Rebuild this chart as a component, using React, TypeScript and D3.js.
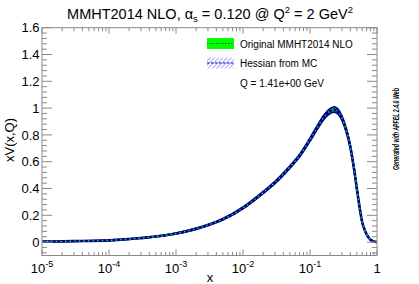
import React, { useRef, useEffect } from "react";
import * as d3 from "d3";

// valence distribution
const xValues = [1e-5, 3e-5, 1e-4, 3e-4, 1e-3, 2e-3, 3e-3, 5e-3, 1e-2, 2e-2, 3e-2, 5e-2, 7e-2, 0.1, 0.13, 0.16, 0.2, 0.23, 0.26, 0.3, 0.35, 0.4, 0.45, 0.5, 0.55, 0.6, 0.65, 0.7, 0.8, 0.9, 1.0];
const xvCentral = [0.004, 0.007, 0.013, 0.03, 0.064, 0.1, 0.127, 0.17, 0.255, 0.37, 0.445, 0.56, 0.645, 0.765, 0.86, 0.93, 0.978, 0.99, 0.975, 0.925, 0.83, 0.71, 0.56, 0.4, 0.26, 0.15, 0.095, 0.058, 0.018, 0.004, 0];
const errOriginal = [0.002, 0.002, 0.003, 0.003, 0.004, 0.005, 0.005, 0.006, 0.007, 0.008, 0.009, 0.01, 0.011, 0.013, 0.015, 0.017, 0.019, 0.02, 0.019, 0.017, 0.014, 0.012, 0.01, 0.008, 0.006, 0.004, 0.003, 0.002, 0.001, 0.001, 0];
const errHessian = [0.002, 0.002, 0.003, 0.003, 0.004, 0.005, 0.005, 0.006, 0.007, 0.008, 0.009, 0.01, 0.011, 0.013, 0.015, 0.017, 0.019, 0.02, 0.019, 0.017, 0.014, 0.012, 0.01, 0.008, 0.006, 0.004, 0.003, 0.002, 0.001, 0.001, 0];

const yMajorTicks = [0, 0.2, 0.4, 0.6, 0.8, 1, 1.2, 1.4, 1.6];
const yTickLabels = ["0", "0.2", "0.4", "0.6", "0.8", "1", "1.2", "1.4", "1.6"];
const xMajorTicks = [1e-5, 1e-4, 1e-3, 1e-2, 1e-1, 1];
const xTickExponents = ["-5", "-4", "-3", "-2", "-1", ""];

const legendLabels = ["Original MMHT2014 NLO", "Hessian from MC", "Q = 1.41e+00 GeV"];

const W = 419;
const H = 284;

const Chart = () => {
  const node: any = useRef();

  useEffect(() => {
    document.body.style.margin = "0";
    const svg = d3.select(node.current).attr("width", W).attr("height", H);
    svg.selectAll("*").remove();

    const left = 42, right = 377, top = 27.7, bottom = 255.5;
    const x = d3.scaleLog().domain([1e-5, 1]).range([left, right]);
    const y = d3.scaleLinear().domain([-0.1, 1.6]).range([bottom, top]);
    const font = "'Liberation Sans', Arial, Helvetica, sans-serif";
    const frameColor = "#8a8a8a";
    const blue = "#00008f";

    const defs = svg.append("defs");
    const pat = defs
      .append("pattern")
      .attr("id", "hatch")
      .attr("patternUnits", "userSpaceOnUse")
      .attr("width", 3)
      .attr("height", 3)
      .attr("patternTransform", "rotate(45)");
    pat.append("line").attr("x1", 0).attr("y1", 0).attr("x2", 0).attr("y2", 3)
      .attr("stroke", "#3a3aff").attr("stroke-width", 0.9);
    defs.append("clipPath").attr("id", "frameClip").append("rect")
      .attr("x", left).attr("y", top).attr("width", right - left).attr("height", bottom - top);

    // title
    const title = svg.append("text")
      .attr("x", 210).attr("y", 18.5).attr("text-anchor", "middle")
      .style("font-family", font).style("font-size", "14.5px");
    title.append("tspan").text("MMHT2014 NLO, ");
    title.append("tspan").text("α");
    title.append("tspan").attr("dy", 3).style("font-size", "9.5px").text("s");
    title.append("tspan").attr("dy", -3).text(" = 0.120 @ Q");
    title.append("tspan").attr("dy", -6).style("font-size", "9.5px").text("2");
    title.append("tspan").attr("dy", 6).text(" = 2 GeV");
    title.append("tspan").attr("dy", -6).style("font-size", "9.5px").text("2");

    // data curves
    const idx = d3.range(xValues.length);
    const plot = svg.append("g").attr("clip-path", "url(#frameClip)");
    const areaOf = (err: number[]) =>
      d3.area<number>()
        .x((i) => x(xValues[i]))
        .y0((i) => y(xvCentral[i] - err[i]))
        .y1((i) => y(xvCentral[i] + err[i]))
        .curve(d3.curveMonotoneX);
    const lineOf = (off: (i: number) => number) =>
      d3.line<number>()
        .x((i) => x(xValues[i]))
        .y((i) => y(xvCentral[i] + off(i)))
        .curve(d3.curveMonotoneX);

    plot.append("path").attr("d", areaOf(errOriginal)(idx)).attr("fill", "#00ff00");
    plot.append("path").attr("d", areaOf(errHessian)(idx)).attr("fill", "url(#hatch)");
    plot.append("path").attr("d", lineOf((i) => errHessian[i])(idx))
      .attr("fill", "none").attr("stroke", blue).attr("stroke-width", 1.6);
    plot.append("path").attr("d", lineOf((i) => -errHessian[i])(idx))
      .attr("fill", "none").attr("stroke", blue).attr("stroke-width", 1.6);
    plot.append("path").attr("d", lineOf(() => 0)(idx))
      .attr("fill", "none").attr("stroke", blue).attr("stroke-width", 2.6);
    plot.append("path").attr("d", lineOf(() => 0)(idx))
      .attr("fill", "none").attr("stroke", "#22ee22").attr("stroke-width", 1.4)
      .attr("stroke-dasharray", "1.4,3.2");

    // frame
    svg.append("rect")
      .attr("x", left).attr("y", top).attr("width", right - left).attr("height", bottom - top)
      .attr("fill", "none").attr("stroke", frameColor).attr("stroke-width", 1);

    // y ticks
    const yMinor = d3.range(-0.08, 1.6, 0.04).filter((v) => Math.abs(Math.round(v / 0.2) * 0.2 - v) > 1e-6);
    const ticks = svg.append("g").attr("stroke", frameColor).attr("stroke-width", 1);
    yMajorTicks.forEach((v) => {
      ticks.append("line").attr("x1", left).attr("x2", left + 10).attr("y1", y(v)).attr("y2", y(v));
      ticks.append("line").attr("x1", right).attr("x2", right - 10).attr("y1", y(v)).attr("y2", y(v));
    });
    yMinor.forEach((v) => {
      ticks.append("line").attr("x1", left).attr("x2", left + 5).attr("y1", y(v)).attr("y2", y(v));
      ticks.append("line").attr("x1", right).attr("x2", right - 5).attr("y1", y(v)).attr("y2", y(v));
    });
    // x ticks
    xMajorTicks.forEach((v) => {
      ticks.append("line").attr("x1", x(v)).attr("x2", x(v)).attr("y1", bottom).attr("y2", bottom - 6);
      ticks.append("line").attr("x1", x(v)).attr("x2", x(v)).attr("y1", top).attr("y2", top + 6);
    });
    xMajorTicks.slice(0, -1).forEach((d) => {
      d3.range(2, 10).forEach((m) => {
        const v = d * m;
        ticks.append("line").attr("x1", x(v)).attr("x2", x(v)).attr("y1", bottom).attr("y2", bottom - 3.5);
        ticks.append("line").attr("x1", x(v)).attr("x2", x(v)).attr("y1", top).attr("y2", top + 3.5);
      });
    });

    // y tick labels
    svg.append("g").selectAll("text").data(yMajorTicks).enter().append("text")
      .attr("x", 39.5).attr("y", (v) => y(v) + 4.6).attr("text-anchor", "end")
      .style("font-family", font).style("font-size", "13px")
      .text((_, i) => yTickLabels[i]);

    // x tick labels
    xMajorTicks.forEach((v, i) => {
      const t = svg.append("text").attr("x", x(v)).attr("y", 273).attr("text-anchor", "middle")
        .style("font-family", font).style("font-size", "13px");
      if (xTickExponents[i] === "") {
        t.text("1");
      } else {
        t.append("tspan").text("10");
        t.append("tspan").attr("dy", -6).style("font-size", "9px").text(xTickExponents[i]);
      }
    });

    // axis titles
    svg.append("text").attr("x", 210).attr("y", 282).attr("text-anchor", "middle")
      .style("font-family", font).style("font-size", "13px").text("x");
    svg.append("text").attr("transform", "translate(13.5,140) rotate(-90)").attr("text-anchor", "middle")
      .style("font-family", font).style("font-size", "13px").text("xV(x,Q)");

    // legend
    const lg = svg.append("g");
    lg.append("rect").attr("x", 207).attr("y", 38).attr("width", 27).attr("height", 11).attr("fill", "#00ff00");
    lg.append("line").attr("x1", 207).attr("x2", 234).attr("y1", 43.5).attr("y2", 43.5)
      .attr("stroke", "#0b7a0b").attr("stroke-width", 1).attr("stroke-dasharray", "1.5,1.5");
    lg.append("rect").attr("x", 207).attr("y", 57.5).attr("width", 27).attr("height", 11).attr("fill", "url(#hatch)");
    lg.append("line").attr("x1", 207).attr("x2", 234).attr("y1", 63).attr("y2", 63)
      .attr("stroke", blue).attr("stroke-width", 1.2).attr("stroke-dasharray", "2.5,1.5");
    [47.5, 67, 87].forEach((yy, i) => {
      lg.append("text").attr("x", 240).attr("y", yy)
        .style("font-family", font).style("font-size", "10px").text(legendLabels[i]);
    });

    // side note
    svg.append("text").attr("transform", "translate(398.5,129) rotate(-90)").attr("text-anchor", "middle")
      .attr("textLength", 82).attr("lengthAdjust", "spacingAndGlyphs")
      .style("font-family", font).style("font-size", "9px").style("font-weight", "bold").style("font-style", "italic")
      .text("Generated with APFEL 2.4.0 Web");
  }, []);

  return <svg ref={node} style={{ display: "block" }}></svg>;
};

export default function App() {
  return <Chart />;
}
